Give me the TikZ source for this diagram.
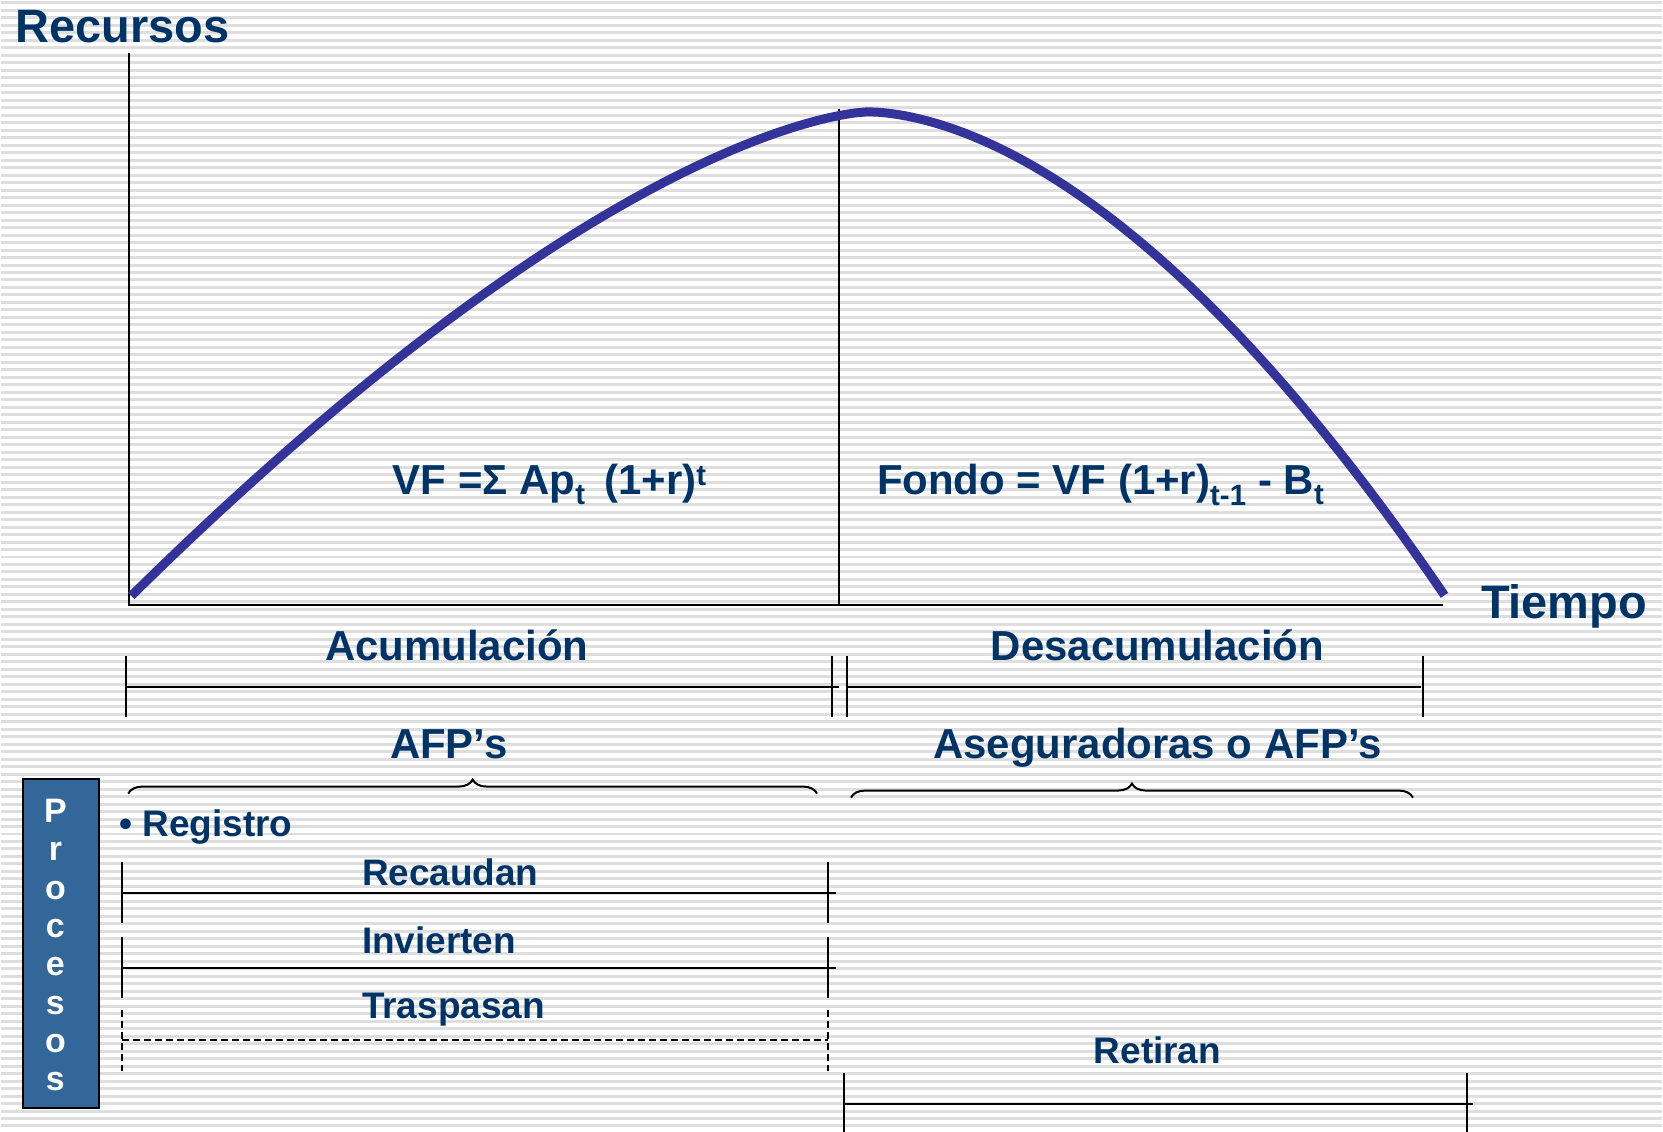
\documentclass[tikz,border=0pt]{standalone}
\usepackage{fontspec}
\setmainfont{Liberation Sans}
\usetikzlibrary{positioning,calc,decorations.pathreplacing}
\definecolor{navy}{RGB}{0,51,102}
\definecolor{curvablue}{RGB}{51,51,153}
\definecolor{cajablue}{RGB}{51,102,153}
\definecolor{gris}{RGB}{222,222,222}

\begin{document}
\begin{tikzpicture}
   [x=1pt,y=-1pt,
    raya/.style={draw=gris,line width=3pt},
    eje/.style={draw=black,line width=2pt},
    tramo/.style={draw=black,line width=2pt},
    punteado/.style={tramo,dash pattern=on 7pt off 4pt},
    llave/.style={draw=black,line width=2pt,decorate,decoration={brace,amplitude=14pt}},
    titulo/.style={text=navy,font=\fontsize{47}{47}\selectfont\bfseries,inner sep=0pt},
    etapa/.style={text=navy,font=\fontsize{42}{42}\selectfont\bfseries,inner sep=0pt},
    proc/.style={text=navy,font=\fontsize{37}{37}\selectfont\bfseries,inner sep=0pt},
    letra/.style={text=white,font=\fontsize{34}{34}\selectfont\bfseries,inner sep=0pt}]

% fondo rayado
\fill[white] (0,0) rectangle (1663,1134);
\foreach \y in {3,10.5,...,1134} \draw[raya] (0,\y) -- (1663,\y);
\useasboundingbox (0,0) rectangle (1663,1134);

% ejes
\coordinate (o) at (128,606);
\coordinate (ytop) at (128,53);
\coordinate (xend) at (1444,606);
\coordinate (mtop) at (839,109);
\coordinate (mbot) at (839,606);
\draw[eje] (ytop) -- (o) -- (xend);
\draw[eje] (mtop) -- (mbot);

% curva de recursos
\draw[curvablue,line width=9pt]
  plot[domain=1:0,samples=60,variable=\u] ({868-738*\u},{597-485*(1-\u*sqrt(\u))})
  -- plot[domain=0:1,samples=60,variable=\u] ({868+578*\u},{112+485*\u*sqrt(\u)*sqrt(sqrt(\u))});

\node[titulo,anchor=base west] (recursos) at (14,43) {Recursos};
\node[titulo,anchor=base west] (tiempo) at (1482,620) {Tiempo};
\node[etapa,anchor=base west] (vf) at (392,495) {VF =Σ Ap\textsubscript{t}\hspace{7pt} (1+r)\textsuperscript{t}};
\node[etapa,anchor=base west] (fondo) at (877,495) {Fondo = VF (1+r)\textsubscript{t-1} - B\textsubscript{t}};

% etapas
\node[etapa,anchor=base] (acum) at (456,662) {Acumulación};
\node[etapa,anchor=base] (desacum) at (1158,662) {Desacumulación};
\node[etapa,anchor=base] (afp) at (448,760) {AFP’s};
\node[etapa,anchor=base] (aseg) at (1158,760) {Aseguradoras o AFP’s};
\draw[llave] (127,795) -- (817,795);
\draw[llave] (851,799) -- (1414,799);

% tramos
\foreach \y/\a/\b/\e in {688/125/832/7, 688/847/1424/-2, 895/121/828/8, 970/121/828/8, 1106/844/1468/6}
  \draw[tramo] (\a,\y-31) -- (\a,\y+30) (\a,\y) -- (\b+\e,\y) (\b,\y-31) -- (\b,\y+30);
\draw[punteado] (121,1012) -- (121,1073) (121,1042) -- (828,1042) (828,1012) -- (828,1073);

% procesos
\node[draw=black,line width=2pt,fill=cajablue,minimum width=76pt,minimum height=329pt,inner sep=0pt] (procesos) at (60,945) {};
\foreach \l [count=\i] in {P,r,o,c,e,s,o,s}
  \node[letra,anchor=base] (p\i) at (54,{824+38.4*(\i-1)}) {\l};

\node[proc,anchor=base west] (registro) at (118,838) {• Registro};
\node[proc,anchor=base west] (recaudan) at (361,887) {Recaudan};
\node[proc,anchor=base west] (invierten) at (361,955) {Invierten};
\node[proc,anchor=base west] (traspasan) at (361,1020) {Traspasan};
\node[proc,anchor=base] (retiran) at (1158,1065) {Retiran};
\end{tikzpicture}
\end{document}
